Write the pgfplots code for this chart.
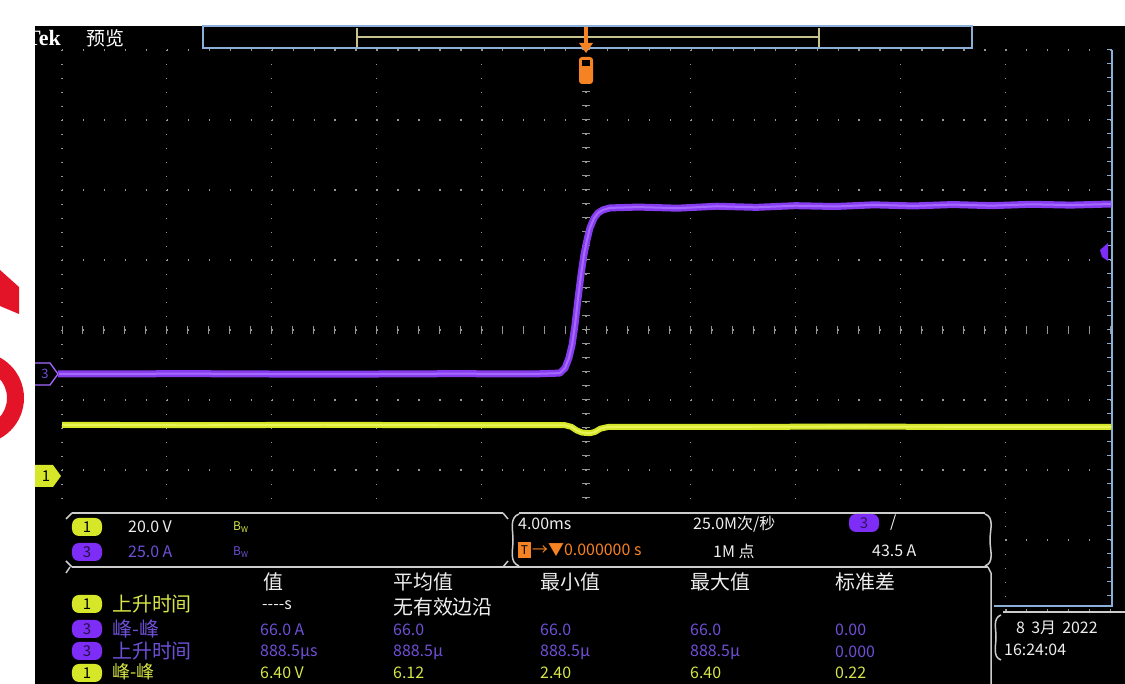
\documentclass[border=0pt]{standalone}
\usepackage{pgfplots}
\usepackage{pgfplotstable}
\pgfplotsset{compat=1.18}
\usepackage{fontspec}
\newfontfamily\cjk{Noto Sans CJK SC}
\newfontfamily\tekfont{Liberation Serif}
\definecolor{scopeyellow}{RGB}{214,230,40}
\definecolor{scopeyellowcore}{RGB}{232,244,90}
\definecolor{scopepurple}{RGB}{135,60,240}
\definecolor{scopepurplecore}{RGB}{165,105,255}
\definecolor{badgepurple}{RGB}{125,45,245}
\definecolor{dimpurple}{RGB}{110,80,215}
\definecolor{gridgray}{RGB}{150,150,150}
\definecolor{panelgray}{RGB}{205,205,205}
\definecolor{edgeblue}{RGB}{140,175,215}
\definecolor{trigorange}{RGB}{245,130,35}
\definecolor{logored}{RGB}{228,20,40}
\definecolor{txtwhite}{RGB}{238,238,238}
\definecolor{tableyellow}{RGB}{215,230,70}
\definecolor{bracketyellow}{RGB}{200,195,140}

\newcommand{\fnum}{\cjk\fontsize{16}{16}\selectfont}
\newcommand{\fcjk}{\cjk\fontsize{20}{20}\selectfont}

\tikzset{badge/.style={rounded corners=7bp, minimum width=30bp, minimum height=18bp, inner sep=0pt, font=\cjk\fontsize{15}{15}\selectfont}}

% Channel 3 (current, A) vs time (ms)
\pgfplotstableread{
t I
-20.15 0.0
-15 0.1
-10 -0.1
-5 0.1
-2 0.0
-1.00 0.3
-0.80 2.1
-0.65 5.7
-0.53 10.4
-0.42 17.5
-0.31 26.4
-0.19 35.4
-0.08 42.5
0.04 47.9
0.15 52.1
0.31 55.7
0.46 57.5
0.65 58.6
0.92 59.3
2.0 59.6
3.5 59.2
5.0 59.9
6.5 59.5
8.0 60.1
9.5 59.8
11.0 60.4
12.5 60.0
14.0 60.5
15.5 60.1
17.0 60.6
18.5 60.3
20.05 60.7
}\chthree

% Channel 1 (voltage, V) vs time (ms)
\pgfplotstableread{
t V
-20 14.6
-15 14.5
-10 14.6
-5 14.5
-0.8 14.5
-0.55 14.0
-0.35 13.0
-0.15 12.4
0.15 12.2
0.35 12.6
0.55 13.5
0.85 14.0
5 14.0
10 14.1
15 14.0
20.05 14.0
}\chone

\begin{document}
\begin{tikzpicture}
\useasboundingbox (0,0) rectangle (1125bp,684bp);
\clip (0,0) rectangle (1125bp,684bp);

\begin{scope}[x=1bp,y=-1bp,shift={(0,684bp)}]
  \fill[white] (0,0) rectangle (1125,684);
  % red fragment on the left
  \fill[logored,even odd rule] (-22,398) circle (46bp) (-22,398) circle (29bp);
  \fill[logored] (0,270) -- (19,287) -- (19,314) -- (0,306) -- cycle;
  % scope screen
  \fill[black] (35,26) rectangle (1125,684);
  % graticule
  \foreach \k in {0,...,9} {
    \draw[gridgray, line width=1.3bp, dash pattern=on 1.3bp off 12.7bp] ({62+104.8*\k},50) -- ({62+104.8*\k},610);
  }
  \foreach \j in {0,...,8} {
    \draw[gridgray, line width=1.3bp, dash pattern=on 1.3bp off 19.66bp] (62,{50+70*\j}) -- (1112,{50+70*\j});
  }
  \foreach \i in {0,...,50} { \draw[gridgray,line width=1bp] ({62+20.96*\i},326) -- ++(0,8); }
  \foreach \i in {0,...,40} { \draw[gridgray,line width=1bp] (582,{50+14*\i}) -- ++(8,0); }
  % record view at top
  \fill[black] (203,26) rectangle (972,48);
  \draw[edgeblue,line width=1.5bp] (203,26) rectangle (972,48);
  \draw[bracketyellow,line width=1.6bp] (357,37) -- (819,37);
  \draw[bracketyellow,line width=1.6bp] (357,28) -- (357,47);
  \draw[bracketyellow,line width=1.6bp] (819,28) -- (819,47);
  % trigger position marker
  \draw[trigorange, line width=4bp] (586,27) -- (586,45);
  \fill[trigorange] (579,43) -- (593,43) -- (586,53) -- cycle;
  \fill[trigorange, rounded corners=3bp] (579,57) rectangle (593,84);
  \fill[black] (582,60) rectangle (590,66);
  % right edge
  \draw[edgeblue, line width=1.5bp] (1112,50) -- (1112,606) -- (994,606);
  \foreach \i in {0,...,39} { \draw[edgeblue, line width=1bp] (1112,{50+14*\i}) -- ++(-5,0); }
  % header text
  \node[anchor=west, text=white, font=\tekfont\bfseries\fontsize{22}{22}\selectfont, inner sep=0pt] at (26,38) {Tek};
  \node[anchor=west, text=white, font=\cjk\fontsize{19}{19}\selectfont, inner sep=0pt] at (86,38) {预览};
\end{scope}

% Channel 3 trace: 25.0 A/div, 4.00 ms/div
\begin{axis}[at={(62bp,74bp)}, anchor=south west, scale only axis,
  width=1048bp, height=560bp, xmin=-20, xmax=20, ymin=-84.3, ymax=115.7,
  hide axis, clip=false]
  \addplot[scopepurple, line width=7bp, line join=round, no markers] table[x=t,y=I] {\chthree};
  \addplot[scopepurplecore, line width=2bp, line join=round, no markers] table[x=t,y=I] {\chthree};
\end{axis}

% Channel 1 trace: 20.0 V/div
\begin{axis}[at={(62bp,74bp)}, anchor=south west, scale only axis,
  width=1048bp, height=560bp, xmin=-20, xmax=20, ymin=-38.3, ymax=121.7,
  hide axis, clip=false]
  \addplot[scopeyellow, line width=6bp, line join=round, no markers] table[x=t,y=V] {\chone};
  \addplot[scopeyellowcore, line width=1.8bp, line join=round, no markers] table[x=t,y=V] {\chone};
\end{axis}

\begin{scope}[x=1bp,y=-1bp,shift={(0,684bp)}]
  % channel markers
  \fill[black] (35,362) -- (50,362) -- (59,374) -- (50,386) -- (35,386) -- cycle;
  \draw[scopepurplecore, line width=1.3bp] (35,363) -- (50,363) -- (58,374) -- (50,385) -- (35,385);
  \node[text=dimpurple, font=\cjk\fontsize{13}{13}\selectfont, inner sep=0pt] at (45,374) {3};
  \fill[scopeyellow] (35,465) -- (53,465) -- (61,476) -- (53,487) -- (35,487) -- cycle;
  \node[text=black, font=\cjk\fontsize{15}{15}\selectfont, inner sep=0pt] at (46,476) {1};
  \fill[badgepurple] (1108,243) -- (1108,261) -- (1102,257) -- (1100,250) -- cycle;

  % panels
  \fill[black] (55,505) rectangle (993,684);
  \begin{scope}[panelgray, line width=1.5bp]
    \draw (72,513) -- (503,513);
    \draw (72,567) -- (988,567);
    \draw (72,513) -- (66,519); \draw (72,567) -- (66,561);
    \draw (503,513) -- (508,519); \draw (503,567) -- (508,561);
    \draw (519,513) -- (985,513);
    \draw (519,514) to[out=200,in=90] (513,540) to[out=-90,in=160] (519,566);
    \draw (985,514) to[out=-20,in=90] (990,540) to[out=-90,in=20] (985,566);
    \draw (70,567) -- (66,573);
    \draw (988,567) -- (991,573) -- (991,684);
    \draw (1003,612) -- (1125,612);
    \draw (1001,615) to[out=200,in=90] (996,637) to[out=-90,in=160] (1001,660);
  \end{scope}

  % channel settings box
  \node[badge, fill=scopeyellow, text=black] at (87,527) {1};
  \node[anchor=west, inner sep=0pt, text=txtwhite, font=\fnum] at (128,527) {20.0 V};
  \node[anchor=west, inner sep=0pt, text=tableyellow, font=\cjk\fontsize{12}{12}\selectfont] at (233,527) {B\textsubscript{W}};
  \node[badge, fill=badgepurple, text=black!70!badgepurple] at (87,552) {3};
  \node[anchor=west, inner sep=0pt, text=dimpurple, font=\fnum] at (128,552) {25.0 A};
  \node[anchor=west, inner sep=0pt, text=dimpurple, font=\cjk\fontsize{12}{12}\selectfont] at (233,552) {B\textsubscript{W}};

  % timebase / trigger box
  \node[anchor=west, inner sep=0pt, text=txtwhite, font=\fnum] at (518,524) {4.00ms};
  \node[anchor=west, inner sep=0pt, text=txtwhite, font=\fnum] at (693,524) {25.0M次/秒};
  \node[badge, fill=badgepurple, text=black!60!badgepurple] at (864,523) {3};
  \node[anchor=west, inner sep=0pt, text=txtwhite, font=\fnum] at (890,523) {/};
  \fill[trigorange] (518,542) rectangle (531,558);
  \node[text=black, font=\cjk\fontsize{12}{12}\selectfont, inner sep=0pt] at (524.5,550) {T};
  \node[anchor=west, inner sep=0pt, text=trigorange, font=\fnum] at (532,550) {→▼0.000000 s};
  \node[anchor=west, inner sep=0pt, text=txtwhite, font=\fnum] at (713,551) {1M 点};
  \node[anchor=west, inner sep=0pt, text=txtwhite, font=\fnum] at (872,551) {43.5 A};

  % measurement table headers
  \node[anchor=west, inner sep=0pt, text=txtwhite, font=\fcjk] at (263,582) {值};
  \node[anchor=west, inner sep=0pt, text=txtwhite, font=\fcjk] at (393,582) {平均值};
  \node[anchor=west, inner sep=0pt, text=txtwhite, font=\fcjk] at (540,582) {最小值};
  \node[anchor=west, inner sep=0pt, text=txtwhite, font=\fcjk] at (690,582) {最大值};
  \node[anchor=west, inner sep=0pt, text=txtwhite, font=\fcjk] at (835,582) {标准差};

  % row 1
  \node[badge, fill=scopeyellow, text=black] at (87,604) {1};
  \node[anchor=west, inner sep=0pt, text=tableyellow, font=\fcjk] at (112,604) {上升时间};
  \node[anchor=west, inner sep=0pt, text=txtwhite, font=\fnum] at (262,605) {----s};
  \node[anchor=west, inner sep=0pt, text=txtwhite, font=\fcjk] at (393,607) {无有效边沿};
  % row 2
  \node[badge, fill=badgepurple, text=black!70!badgepurple] at (87,629) {3};
  \node[anchor=west, inner sep=0pt, text=dimpurple, font=\fcjk] at (112,629) {峰-峰};
  \node[anchor=west, inner sep=0pt, text=dimpurple, font=\fnum] at (260,630) {66.0 A};
  \node[anchor=west, inner sep=0pt, text=dimpurple, font=\fnum] at (393,630) {66.0};
  \node[anchor=west, inner sep=0pt, text=dimpurple, font=\fnum] at (540,630) {66.0};
  \node[anchor=west, inner sep=0pt, text=dimpurple, font=\fnum] at (690,630) {66.0};
  \node[anchor=west, inner sep=0pt, text=dimpurple, font=\fnum] at (835,630) {0.00};
  % row 3
  \node[badge, fill=badgepurple, text=black!70!badgepurple] at (87,651) {3};
  \node[anchor=west, inner sep=0pt, text=dimpurple, font=\fcjk] at (112,651) {上升时间};
  \node[anchor=west, inner sep=0pt, text=dimpurple, font=\fnum] at (260,652) {888.5μs};
  \node[anchor=west, inner sep=0pt, text=dimpurple, font=\fnum] at (393,652) {888.5μ};
  \node[anchor=west, inner sep=0pt, text=dimpurple, font=\fnum] at (540,652) {888.5μ};
  \node[anchor=west, inner sep=0pt, text=dimpurple, font=\fnum] at (690,652) {888.5μ};
  \node[anchor=west, inner sep=0pt, text=dimpurple, font=\fnum] at (835,652) {0.000};
  % row 4
  \node[badge, fill=scopeyellow, text=black] at (87,673) {1};
  \node[anchor=west, inner sep=0pt, text=tableyellow, font=\cjk\fontsize{18}{18}\selectfont] at (112,672) {峰-峰};
  \node[anchor=west, inner sep=0pt, text=tableyellow, font=\fnum] at (260,673) {6.40 V};
  \node[anchor=west, inner sep=0pt, text=tableyellow, font=\fnum] at (393,673) {6.12};
  \node[anchor=west, inner sep=0pt, text=tableyellow, font=\fnum] at (540,673) {2.40};
  \node[anchor=west, inner sep=0pt, text=tableyellow, font=\fnum] at (690,673) {6.40};
  \node[anchor=west, inner sep=0pt, text=tableyellow, font=\fnum] at (835,673) {0.22};

  % date / time box
  \node[anchor=west, inner sep=0pt, text=txtwhite, font=\fnum] at (1016,628) {8 \,3月 \,2022};
  \node[anchor=west, inner sep=0pt, text=txtwhite, font=\fnum] at (1004,650) {16:24:04};
\end{scope}
\end{tikzpicture}
\end{document}
